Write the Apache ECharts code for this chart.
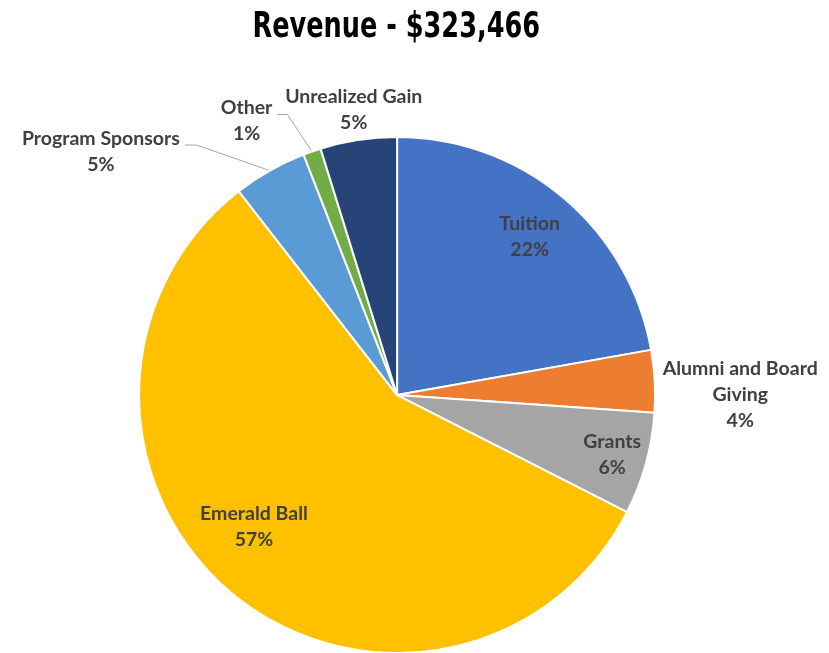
<!DOCTYPE html>
<html>
<head>
<meta charset="utf-8">
<script src="https://cdn.jsdelivr.net/npm/echarts@6/dist/echarts.min.js"></script>
<style>
  html, body { margin: 0; padding: 0; background: #ffffff; }
  #chart { width: 829px; height: 653px; }
</style>
</head>
<body>
<div id="chart"></div>
<script>
// ---- data ----
const titleText = 'Revenue - $323,466';
const categories = ['Tuition', 'Alumni and Board Giving', 'Grants', 'Emerald Ball', 'Program Sponsors', 'Other', 'Unrealized Gain'];
const values = [71800, 12600, 20700, 184366, 14900, 3600, 15500];
const colors = ['#4472C4', '#ED7D31', '#A5A5A5', '#FFC000', '#5B9BD5', '#70AD47', '#264478'];

// ---- label placement (radius factor, angle tweak in degrees, leader line) ----
const labelPlace = [
  { f: 0.80, da: 0, line: false },
  { f: 1.33, da: 3, line: false },
  { f: 0.865, da: 0, line: false },
  { f: 0.754, da: 7.8, line: false },
  { f: 1.487, da: -21, line: true, bend: 12 },
  { f: 1.213, da: -9.5, line: true, bend: 10 },
  { f: 1.12, da: 0, line: false }
];

const chart = echarts.init(document.getElementById('chart'));
const CX = 0.479, CY = 0.605, R = 258;

const total = values.reduce((a, b) => a + b, 0);
const midAngles = [];
let acc = 0;
values.forEach(v => {
  const a0 = acc / total * 360;
  acc += v;
  const a1 = acc / total * 360;
  midAngles.push((a0 + a1) / 2);
});

function polar(angDeg, rad) {
  const cx = chart.getWidth() * CX, cy = chart.getHeight() * CY;
  const t = angDeg * Math.PI / 180;
  return [cx + rad * Math.sin(t), cy - rad * Math.cos(t)];
}

const data = categories.map((name, i) => ({
  name: name,
  value: values[i],
  itemStyle: { color: colors[i] },
  label: { position: labelPlace[i].line ? 'outside' : 'inside' },
  labelLine: { show: labelPlace[i].line }
}));

chart.setOption({
  animation: false,
  graphic: [{
    type: 'text',
    x: chart.getWidth() * 0.478,
    y: 10,
    scaleX: 0.79,
    scaleY: 1,
    style: {
      text: titleText,
      fontFamily: '"DejaVu Sans Condensed", "DejaVu Sans", sans-serif',
      fontWeight: 'bold',
      fontSize: 36,
      fill: '#000000',
      align: 'center',
      verticalAlign: 'top'
    }
  }],
  series: [{
    type: 'pie',
    center: [(CX * 100) + '%', (CY * 100) + '%'],
    radius: R,
    startAngle: 90,
    clockwise: true,
    data: data,
    itemStyle: { borderColor: '#ffffff', borderWidth: 2 },
    label: {
      formatter: p => p.name.replace(' Giving', '\nGiving') + '\n' + p.percent + '%',
      fontFamily: 'Lato',
      fontWeight: 'bold',
      fontSize: 19.5,
      lineHeight: 26,
      color: '#404040',
      overflow: 'none'
    },
    labelLine: {
      lineStyle: { color: '#A6A6A6', width: 1 },
      length: 20,
      length2: 10
    },
    percentPrecision: 0,
    labelLayout: function (params) {
      const i = params.dataIndex;
      const lp = labelPlace[i];
      const pos = polar(midAngles[i] + lp.da, lp.f * R);
      const res = { x: pos[0], y: pos[1], align: 'center', verticalAlign: 'middle' };
      if (lp.line) {
        const w = params.labelRect.width, h = params.labelRect.height;
        const start = polar(midAngles[i], R);
        const endX = pos[0] + w / 2 + 5;
        const endY = pos[1] - h / 2 + h * 0.38;
        res.labelLinePoints = [start, [endX + lp.bend, endY], [endX, endY]];
      }
      return res;
    }
  }]
});
</script>
</body>
</html>
